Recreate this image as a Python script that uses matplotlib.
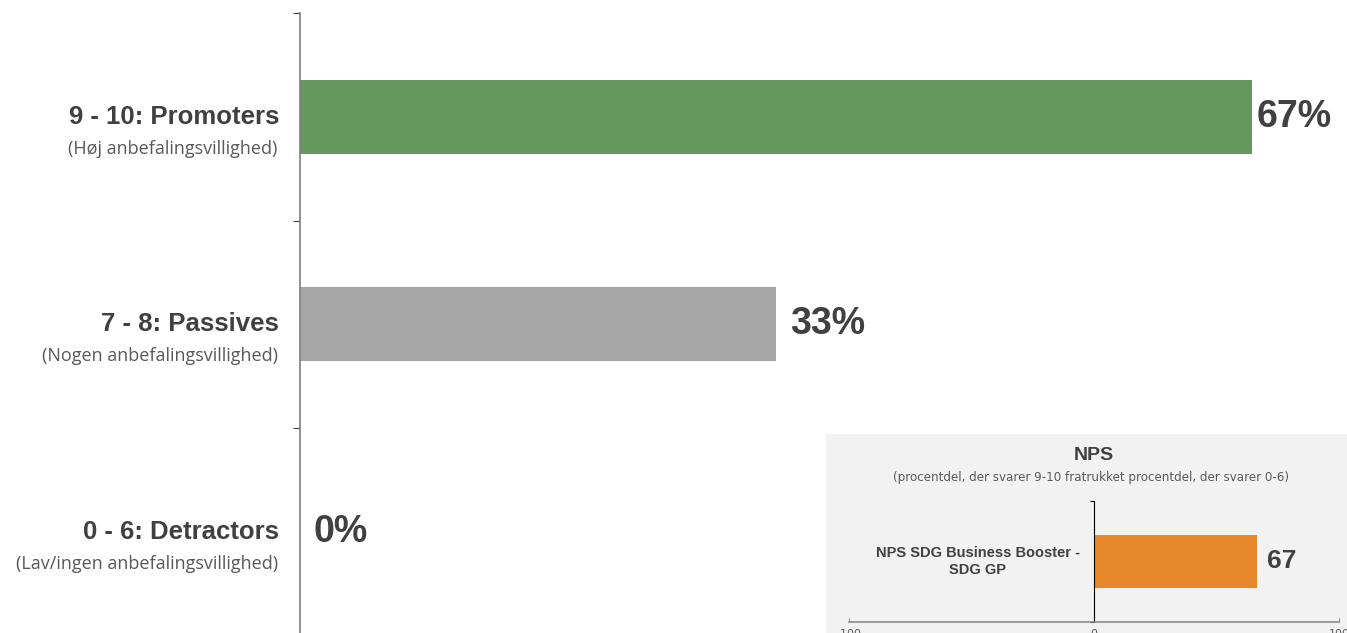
import matplotlib.pyplot as plt
from matplotlib.patches import Rectangle
from matplotlib.transforms import offset_copy

# data
groups = ["9 - 10: Promoters", "7 - 8: Passives", "0 - 6: Detractors"]
subtitles = ["(Høj anbefalingsvillighed)", "(Nogen anbefalingsvillighed)",
             "(Lav/ingen anbefalingsvillighed)"]
shares = [66.67, 33.33, 0.0]
colors = ["#66975E", "#A6A6A6", "#A6A6A6"]

nps_label = "NPS SDG Business Booster -\nSDG GP"
nps_value = 66.67
nps_ticks = [-100, 0, 100]

W, H = 1347, 633
fig = plt.figure(figsize=(W / 100, H / 100), dpi=100)

# main chart
ax = fig.add_axes([300 / W, -2.5 / H, (W - 300) / W, 622.5 / H])
ax.set_facecolor("none")
ypos = range(len(groups))
ax.barh(ypos, shares, height=0.355, color=colors)
ax.set_xlim(0, 73.3)
ax.set_ylim(2.5, -0.5)
for s in ["top", "right", "bottom"]:
    ax.spines[s].set_visible(False)
ax.spines["left"].set_color("#7F7F7F")
ax.spines["left"].set_linewidth(1.2)
ax.set_xticks([])
ax.set_yticks([-0.5, 0.5, 1.5, 2.5])
ax.set_yticklabels([])
ax.tick_params(axis="y", length=5, color="#404040", direction="out")

for i, (g, sub, v) in enumerate(zip(groups, subtitles, shares)):
    ax.annotate(g, xy=(0, i), xycoords=("axes fraction", "data"),
                xytext=(-15, 0), textcoords="offset points",
                ha="right", va="center", fontsize=18.5, fontweight="bold",
                color="#404040", family="Liberation Sans")
    ax.annotate(sub, xy=(0, i), xycoords=("axes fraction", "data"),
                xytext=(-16, -23), textcoords="offset points",
                ha="right", va="center", fontsize=13, color="#595959",
                family="Open Sans")
    # the reference squeezes the longest label against the bar end
    off = 3 if v > 60 else 10
    ax.annotate(f"{v:.0f}%", xy=(v, i), xytext=(off, 0),
                textcoords="offset points", ha="left", va="center",
                fontsize=27, fontweight="bold", color="#404040",
                family="Liberation Sans", annotation_clip=False)

# NPS box
fig.patches.append(Rectangle((826 / W, 0), (W - 826) / W, 199 / H,
                             transform=fig.transFigure, facecolor="#F2F2F2",
                             edgecolor="none", zorder=-1))
fig.text(1094 / W, 1 - 456 / H, "NPS", ha="center", va="center",
         fontsize=14, fontweight="bold", color="#404040",
         family="Liberation Sans")
fig.text(1091 / W, 1 - 478 / H,
         "(procentdel, der svarer 9-10 fratrukket procentdel, der svarer 0-6)",
         ha="center", va="center", fontsize=8.6, color="#595959",
         family="DejaVu Sans")

ax2 = fig.add_axes([849 / W, 11 / H, 490 / W, 121 / H])
ax2.set_facecolor("none")
ax2.barh([0], [nps_value], height=0.44, color="#E6882B")
ax2.set_xlim(-100, 100)
ax2.set_ylim(-0.5, 0.5)
ax2.spines["top"].set_visible(False)
ax2.spines["right"].set_visible(False)
ax2.spines["left"].set_position(("data", 0))
ax2.spines["left"].set_color("black")
ax2.spines["bottom"].set_color("#8C8C8C")
ax2.spines["bottom"].set_linewidth(1.2)
ax2.set_yticks([-0.5, 0.5])
ax2.set_yticklabels([])
ax2.tick_params(axis="y", length=3, color="black")
ax2.set_xticks(nps_ticks)
ax2.set_xticklabels([str(t) for t in nps_ticks])
ax2.tick_params(axis="x", length=3, direction="in", color="#8C8C8C",
                labelsize=8, labelcolor="#595959", pad=5)
ax2.text(0, 0, nps_label,
         transform=offset_copy(ax2.transData, fig=fig, x=-14, y=0, units="dots"),
         ha="right", va="center", multialignment="center", fontsize=10.5,
         fontweight="bold", color="#404040", family="Liberation Sans")
ax2.annotate(f"{nps_value:.0f}", xy=(nps_value, 0), xytext=(7, 0),
             textcoords="offset points", ha="left", va="center", fontsize=19,
             fontweight="bold", color="#404040", family="Liberation Sans")

fig.savefig("out.png", dpi=100)
